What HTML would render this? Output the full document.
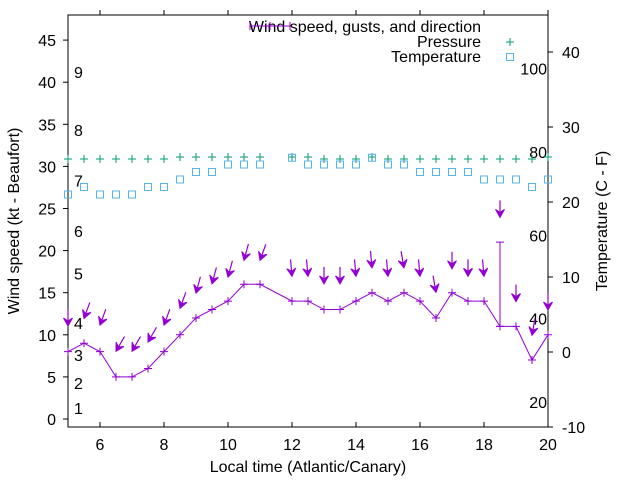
<!DOCTYPE html>
<html><head><meta charset="utf-8"><style>
html,body{margin:0;padding:0;background:#fff}
svg{display:block;font-family:"Liberation Sans",sans-serif}
</style></head><body>
<svg id="chart" width="640" height="480" viewBox="0 0 640 480" xmlns="http://www.w3.org/2000/svg"></svg>
<script>
const times=[5,5.5,6,6.5,7,7.5,8,8.5,9,9.5,10,10.5,11,12,12.5,13,13.5,14,14.5,15,15.5,16,16.5,17,17.5,18,18.5,19,19.5,20];
const windSpeed=[8,9,8,5,5,6,8,10,12,13,14,16,16,14,14,13,13,14,15,14,15,14,12,15,14,14,11,11,7,10];
const gusts=[11.4,12.3,11.5,8.4,8.4,9.5,11.5,13.5,15.3,16.4,17.2,19.2,19.2,17.3,17.3,16.4,16.4,17.3,18.3,17.3,18.3,17.3,15.4,18.2,17.3,17.3,24.3,14.3,10.3,13.3];
const windDir=[0,20,20,30,30,30,20,20,15,15,15,15,20,355,355,0,0,355,355,355,350,355,350,0,0,355,0,0,10,0];
const errTime=[18.5];
const errLow=[11];
const errHigh=[21];
const pressure=[1016,1016,1016,1016,1016,1016,1016,1017,1017,1017,1017,1017,1017,1017,1017,1016,1016,1016,1017,1016,1016,1016,1016,1016,1016,1016,1016,1016,1016,1017];
const temperature=[21,22,21,21,21,22,22,23,24,24,25,25,25,25.9,25,25,25,25,25.9,25,25,24,24,24,24,23,23,23,22,23];
const xTicks=[6,8,10,12,14,16,18,20];
const yTicks=[0,5,10,15,20,25,30,35,40,45];
const y2Ticks=[-10,0,10,20,30,40];
const bftLabels=[1,2,3,4,5,6,7,8,9];
const bftKnots=[1.3,4.3,7.6,11.4,17.3,22.3,28.3,34.3,41.2];
const fLabels=[20,40,60,80,100];

const L=68,R=548,T=15,B=427;
const X=t=>L+(t-5)*32;
const Y=v=>419-v*8.42;
const Y2=c=>352-c*7.5;
const YP=p=>159-(p-1016)*2;
const NS="http://www.w3.org/2000/svg";
const svg=document.getElementById('chart');
function mk(tag,attrs,parent){const e=document.createElementNS(NS,tag);for(const k in attrs)e.setAttribute(k,attrs[k]);(parent||svg).appendChild(e);return e;}
function txt(s,x,y,anchor,parent){const e=mk('text',{x:x,y:y,'font-size':16,'text-anchor':anchor||'middle',fill:'#000'},parent);e.textContent=s;return e;}

// frame
const frame=mk('rect',{x:L,y:T,width:R-L,height:B-T,fill:'none',stroke:'#000','stroke-width':1});



// x ticks
xTicks.forEach(t=>{
  const g=mk('g',{});
  
  
  mk('line',{x1:X(t),x2:X(t),y1:B,y2:B-5,stroke:'#000'},g);
  mk('line',{x1:X(t),x2:X(t),y1:T,y2:T-5,stroke:'#000'},g);
  txt(String(t),X(t),450,'middle',g);
});
// y ticks
yTicks.forEach(v=>{
  const g=mk('g',{});
  
  
  mk('line',{x1:L-5,x2:L,y1:Y(v),y2:Y(v),stroke:'#000'},g);
  txt(String(v),56,Y(v)+6,'end',g);
});
// y2 ticks
y2Ticks.forEach(c=>{
  const g=mk('g',{});
  
  
  mk('line',{x1:R,x2:R+5,y1:Y2(c),y2:Y2(c),stroke:'#000'},g);
  txt(String(c),562,Y2(c)+6,'start',g);
});
// beaufort labels
bftLabels.forEach((b,i)=>{
  const e=txt(String(b),74,Y(bftKnots[i])+6,'start');
  
  
});
// fahrenheit labels
fLabels.forEach(f=>{
  const e=txt(String(f),547,Y2((f-32)/1.8)+6,'end');
  
  
});

// axis titles
const xt=txt('Local time (Atlantic/Canary)',308,472);


const yt=txt('Wind speed (kt - Beaufort)',0,0);
yt.setAttribute('transform','translate(19,221) rotate(-90)');


const y2t=txt('Temperature (C - F)',0,0);
y2t.setAttribute('transform','translate(607,221) rotate(-90)');



const PURPLE='#9400d3',GREEN='#009e73',BLUE='#56b4e9';
function cross(x,y,c,parent,s){s=s||4;mk('path',{d:`M${x-s} ${y}H${x+s}M${x} ${y-s}V${y+s}`,stroke:c,'stroke-width':1,fill:'none'},parent);}
function square(x,y,c,parent){mk('rect',{x:x-3.5,y:y-3.5,width:7,height:7,fill:'none',stroke:c,'stroke-width':1},parent);}

// pressure
pressure.forEach((p,i)=>{
  const g=mk('g',{});
  
  
  cross(X(times[i]),YP(p),GREEN,g);
});
// temperature
temperature.forEach((c,i)=>{
  const g=mk('g',{});
  
  
  square(X(times[i]),Y2(c),BLUE,g);
});
// wind line
const wl=mk('polyline',{points:times.map((t,i)=>X(t)+','+Y(windSpeed[i])).join(' '),fill:'none',stroke:PURPLE,'stroke-width':1});


windSpeed.forEach((v,i)=>{
  const g=mk('g',{});
  
  
  cross(X(times[i]),Y(v),PURPLE,g);
});
// error bar (gust range)
errTime.forEach((t,i)=>{
  const g=mk('g',{});
  
  
  mk('path',{d:`M${X(t)} ${Y(errLow[i])}V${Y(errHigh[i])}M${X(t)-4} ${Y(errHigh[i])}H${X(t)+4}M${X(t)-4} ${Y(errLow[i])}H${X(t)+4}`,stroke:PURPLE,fill:'none'},g);
});
// direction arrows at gust value
gusts.forEach((gv,i)=>{
  const g=mk('g',{});
  
  
  const x=X(times[i]),y=Y(gv)+3;
  const a=windDir[i]*Math.PI/180;
  const ux=Math.sin(a),uy=-Math.cos(a); // toward tail
  const len=17;
  mk('line',{x1:x,y1:y,x2:x+ux*len,y2:y+uy*len,stroke:PURPLE,'stroke-width':1.2},g);
  const hl=8,hw=4.5;
  const bx=x+ux*hl,by=y+uy*hl;
  const px=-uy,py=ux;
  mk('polygon',{points:`${x},${y} ${bx+px*hw},${by+py*hw} ${x+ux*5},${y+uy*5} ${bx-px*hw},${by-py*hw}`,fill:PURPLE,stroke:PURPLE,'stroke-width':1},g);
});

// legend
const lg=mk('g',{});


const l1=mk('g',{},lg);


txt('Wind speed, gusts, and direction',481,32,'end',l1);
mk('path',{d:'M250 26H290M250 22V30M290 22V30',stroke:PURPLE,fill:'none'},l1);
cross(270,26,PURPLE,l1);
const l2=mk('g',{},lg);


txt('Pressure',481,47,'end',l2);
cross(510,42,GREEN,l2);
const l3=mk('g',{},lg);


txt('Temperature',481,62,'end',l3);
square(510,57,BLUE,l3);
</script>
</body></html>
